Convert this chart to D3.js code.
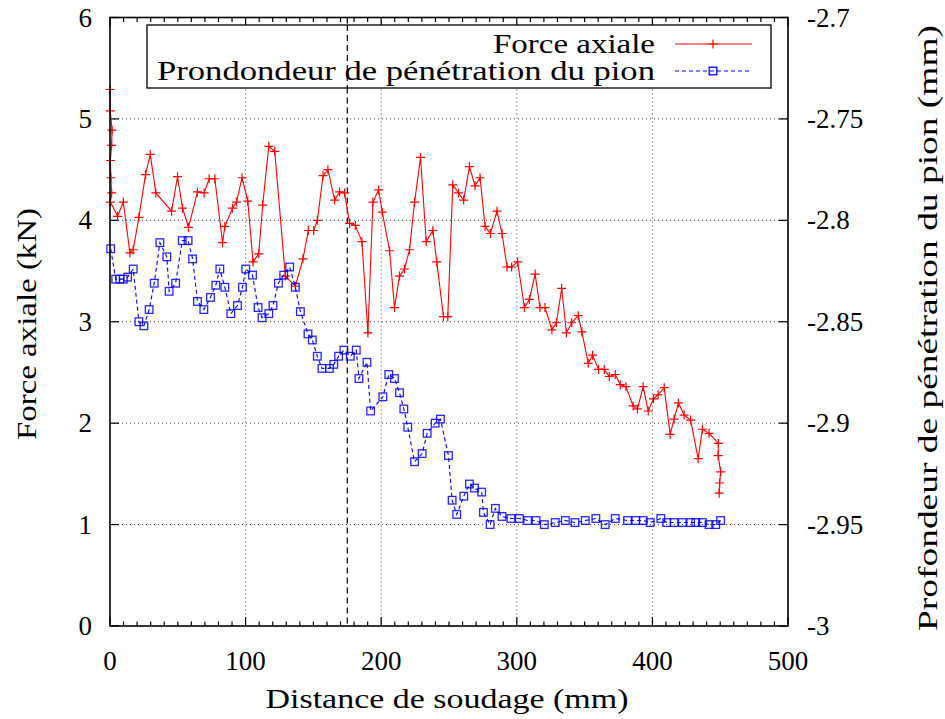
<!DOCTYPE html>
<html><head><meta charset="utf-8">
<script src="https://cdn.jsdelivr.net/npm/d3@7"></script>
<style>
body{margin:0;background:#fff;}
</style></head>
<body>
<svg id="chart" width="945" height="719"></svg>
<script>
// ---- data ----
const forceX = [0,0.2,1.5,1.2,0.3,0.6,1.2,0.3,5.6,9.8,14.7,17.1,21.3,26.2,29.7,33.8,45.4,49.8,53.5,57.9,64.5,69.4,73.1,77.3,83.0,84.7,90.3,93.3,97.4,101.6,105.5,109.7,112.6,117.1,121.5,129.3,136.7,142.3,146.3,150.2,152.9,157.1,160.7,165.7,169.3,173.0,176.7,180.9,185.8,190.2,193.9,198.1,200.8,206.2,209.8,213.5,217.2,220.9,224.6,229.0,233.2,238.1,241.0,245.9,249.1,252.8,257.0,260.8,265.1,269.2,272.9,276.6,280.5,285.4,289.1,292.8,296.2,300.6,305.6,309.3,313.5,317.1,320.8,325.9,329.2,333.1,336.6,340.5,345.3,348.0,352.7,355.9,360.3,364.5,368.2,372.6,376.3,380.5,385.8,389.0,393.2,396.9,400.8,404.2,408.7,413.1,416.0,419.2,423.4,428.2,433.7,436.9,441.8,448.7,448.5,450.3,449.6,449.2];
const forceY = [5.29,5.08,4.89,4.74,4.59,4.42,4.27,4.18,4.04,4.18,3.68,3.71,4.03,4.45,4.65,4.27,4.09,4.43,4.12,3.93,4.28,4.27,4.41,4.41,3.78,3.94,4.12,4.18,4.42,4.19,3.59,3.67,4.15,4.73,4.68,3.45,3.35,3.62,3.90,3.90,4.00,4.44,4.50,4.20,4.28,4.27,3.97,3.95,3.79,2.89,4.18,4.30,4.08,3.70,3.14,3.45,3.52,3.71,4.18,4.62,3.79,3.90,3.59,3.05,3.05,4.35,4.27,4.20,4.53,4.34,4.42,3.94,3.87,4.09,3.87,3.54,3.54,3.59,3.14,3.22,3.47,3.14,3.14,2.92,2.99,3.33,2.89,2.99,3.06,2.90,2.59,2.67,2.53,2.53,2.46,2.48,2.38,2.36,2.17,2.14,2.36,2.12,2.24,2.28,2.35,1.89,2.04,2.20,2.08,2.03,1.65,1.94,1.90,1.80,1.68,1.52,1.41,1.31];
const depthX = [0.5,4.2,7.3,9.8,13.0,17.1,21.3,25.0,28.9,32.6,36.8,41.9,43.6,48.4,53.3,57.6,60.9,64.5,69.2,74.1,78.0,81.0,84.7,89.1,94.0,97.7,100.1,105.1,109.2,112.1,117.1,120.2,124.2,128.1,132.5,136.7,140.4,146.0,149.2,152.9,156.3,161.8,165.0,168.6,172.5,177.2,181.6,183.6,189.5,192.2,201.2,205.6,209.8,213.5,216.7,219.6,224.6,230.2,233.9,239.8,243.7,249.6,252.3,255.7,260.9,265.1,268.8,274.1,275.4,280.3,284.2,289.1,295.7,301.9,308.0,314.2,320.3,328.4,335.8,342.9,350.5,358.3,365.2,372.6,381.7,387.8,393.2,398.4,406.2,410.6,416.0,422.1,428.2,432.0,436.9,441.8,446.7,450.3];
const depthY = [-2.814,-2.829,-2.829,-2.829,-2.828,-2.824,-2.850,-2.852,-2.844,-2.831,-2.811,-2.818,-2.835,-2.831,-2.810,-2.810,-2.819,-2.840,-2.844,-2.838,-2.832,-2.824,-2.833,-2.846,-2.842,-2.833,-2.824,-2.827,-2.843,-2.848,-2.846,-2.842,-2.831,-2.827,-2.823,-2.833,-2.845,-2.856,-2.859,-2.867,-2.873,-2.873,-2.871,-2.867,-2.864,-2.867,-2.864,-2.878,-2.870,-2.894,-2.887,-2.876,-2.878,-2.885,-2.893,-2.902,-2.919,-2.915,-2.905,-2.900,-2.898,-2.916,-2.938,-2.945,-2.936,-2.930,-2.932,-2.934,-2.944,-2.950,-2.942,-2.946,-2.947,-2.947,-2.948,-2.948,-2.950,-2.949,-2.948,-2.949,-2.948,-2.947,-2.950,-2.947,-2.948,-2.948,-2.948,-2.949,-2.947,-2.949,-2.949,-2.949,-2.949,-2.949,-2.949,-2.950,-2.950,-2.948];
const xTicks = [0,100,200,300,400,500];
const xMinorTicks = d3.range(0,501,10);
const yLeftTicks = [0,1,2,3,4,5,6];
const yRightTicks = [-3,-2.95,-2.9,-2.85,-2.8,-2.75,-2.7];
const yRightLabels = ["-3","-2.95","-2.9","-2.85","-2.8","-2.75","-2.7"];
const markerLine = 175;
const seriesNames = ["Force axiale","Prondondeur de pénétration du pion"];
const xTitle = "Distance de soudage (mm)";
const yLeftTitle = "Force axiale (kN)";
const yRightTitle = "Profondeur de pénétration du pion (mm)";

// ---- layout ----
const FONT = "Liberation Serif, DejaVu Serif, serif";
const svg = d3.select("#chart").attr("font-family",FONT);
const L = 110, R = 788, T = 17.5, B = 626;
const x = d3.scaleLinear().domain([0,500]).range([L,R]);
const yL = d3.scaleLinear().domain([0,6]).range([B,T]);
const yR = d3.scaleLinear().domain([-3,-2.7]).range([B,T]);
const FS = 27;
function txt(sel){ return sel.append("text").attr("font-family",FONT).attr("fill","#000"); }

// grid
const g = svg.append("g");
g.selectAll("line.gx").data(xTicks.filter(d=>d>0&&d<500)).join("line")
  .attr("x1",d=>x(d)).attr("x2",d=>x(d)).attr("y1",T).attr("y2",B)
  .attr("stroke","#000").attr("stroke-width",1).attr("stroke-dasharray","1,3").attr("opacity",0.75);
g.selectAll("line.gy").data(yLeftTicks.filter(d=>d>0&&d<6)).join("line")
  .attr("y1",d=>yL(d)).attr("y2",d=>yL(d)).attr("x1",L).attr("x2",R)
  .attr("stroke","#000").attr("stroke-width",1).attr("stroke-dasharray","1,3").attr("opacity",0.75);

// vertical dashed marker
svg.append("line").attr("x1",x(markerLine)).attr("x2",x(markerLine)).attr("y1",T).attr("y2",B)
  .attr("stroke","#000").attr("stroke-width",1.2).attr("stroke-dasharray","6,4");

// ticks
const tk = svg.append("g").attr("stroke","#000").attr("stroke-width",1.2);
xMinorTicks.forEach(d=>{
  const len = (d%100===0)?9:4.5;
  tk.append("line").attr("x1",x(d)).attr("x2",x(d)).attr("y1",B).attr("y2",B-len);
  tk.append("line").attr("x1",x(d)).attr("x2",x(d)).attr("y1",T).attr("y2",T+len);
});
yLeftTicks.forEach(d=>{
  tk.append("line").attr("x1",L).attr("x2",L+9).attr("y1",yL(d)).attr("y2",yL(d));
});
yRightTicks.forEach(d=>{
  tk.append("line").attr("x1",R).attr("x2",R-9).attr("y1",yR(d)).attr("y2",yR(d));
});

// tick labels
const xl = svg.append("g");
xTicks.forEach(d=>{
  txt(xl).attr("x",x(d)).attr("y",B+44).attr("text-anchor","middle").attr("font-size",FS).text(d);
});
const yll = svg.append("g");
yLeftTicks.forEach(d=>{
  txt(yll).attr("x",L-18).attr("y",yL(d)+9).attr("text-anchor","end").attr("font-size",FS).text(d);
});
const yrl = svg.append("g");
yRightTicks.forEach((d,i)=>{
  txt(yrl).attr("x",R+19).attr("y",yR(d)+9).attr("text-anchor","start").attr("font-size",FS).text(yRightLabels[i]);
});

// axis titles
txt(svg).attr("x",447).attr("y",708).attr("text-anchor","middle").attr("font-size",FS+1)
  .attr("textLength",363).attr("lengthAdjust","spacingAndGlyphs").text(xTitle);
txt(svg).attr("transform","translate(36,324) rotate(-90)").attr("text-anchor","middle").attr("font-size",FS+1)
  .attr("textLength",232).attr("lengthAdjust","spacingAndGlyphs").text(yLeftTitle);
txt(svg).attr("transform","translate(937,328) rotate(-90)").attr("text-anchor","middle").attr("font-size",FS+1)
  .attr("textLength",606).attr("lengthAdjust","spacingAndGlyphs").text(yRightTitle);

// series
const lineF = d3.line().x((d,i)=>x(forceX[i])).y(d=>yL(d));
svg.append("path").datum(forceY).attr("d",lineF).attr("fill","none").attr("stroke","#ff0000").attr("stroke-width",1.1);
svg.append("g").selectAll("path").data(forceY).join("path")
  .attr("d",(d,i)=>`M${x(forceX[i])-4.5},${yL(d)}h9M${x(forceX[i])},${yL(d)-4.5}v9`)
  .attr("stroke","#ff0000").attr("stroke-width",1.2).attr("fill","none");

const lineD = d3.line().x((d,i)=>x(depthX[i])).y(d=>yR(d));
svg.append("path").datum(depthY).attr("d",lineD).attr("fill","none").attr("stroke","#0000ff").attr("stroke-width",1.1).attr("stroke-dasharray","4,3");
svg.append("g").selectAll("rect").data(depthY).join("rect")
  .attr("x",(d,i)=>x(depthX[i])-3.8).attr("y",d=>yR(d)-3.8).attr("width",7.6).attr("height",7.6)
  .attr("fill","none").attr("stroke","#0000ff").attr("stroke-width",1.3).attr("stroke-opacity",0.85);

// frame
svg.append("rect").attr("x",L).attr("y",T).attr("width",R-L).attr("height",B-T)
  .attr("fill","none").attr("stroke","#000").attr("stroke-width",1.6);

// legend
const lg = svg.append("g");
lg.append("rect").attr("x",147).attr("y",25).attr("width",624).attr("height",63)
  .attr("fill","#fff").attr("stroke","#000").attr("stroke-width",1.3);
svg.append("line").attr("x1",x(markerLine)).attr("x2",x(markerLine)).attr("y1",25).attr("y2",88)
  .attr("stroke","#000").attr("stroke-width",1.2).attr("stroke-dasharray","6,4");
const lg2 = svg.append("g");
txt(lg2).attr("x",655).attr("y",53).attr("text-anchor","end").attr("font-size",FS+1)
  .attr("textLength",162).attr("lengthAdjust","spacingAndGlyphs").text(seriesNames[0]);
txt(lg2).attr("x",655).attr("y",80).attr("text-anchor","end").attr("font-size",FS+1)
  .attr("textLength",498).attr("lengthAdjust","spacingAndGlyphs").text(seriesNames[1]);
lg2.append("line").attr("x1",675).attr("x2",752).attr("y1",44).attr("y2",44).attr("stroke","#ff0000").attr("stroke-width",1.1);
lg2.append("path").attr("d","M708.5,44h9M713,39.5v9").attr("stroke","#ff0000").attr("stroke-width",1.2);
lg2.append("line").attr("x1",675).attr("x2",752).attr("y1",71).attr("y2",71).attr("stroke","#0000ff").attr("stroke-width",1.1).attr("stroke-dasharray","4,3");
lg2.append("rect").attr("x",709.2).attr("y",67.2).attr("width",7.6).attr("height",7.6).attr("fill","none").attr("stroke","#0000ff").attr("stroke-width",1.3);
</script>
</body></html>
